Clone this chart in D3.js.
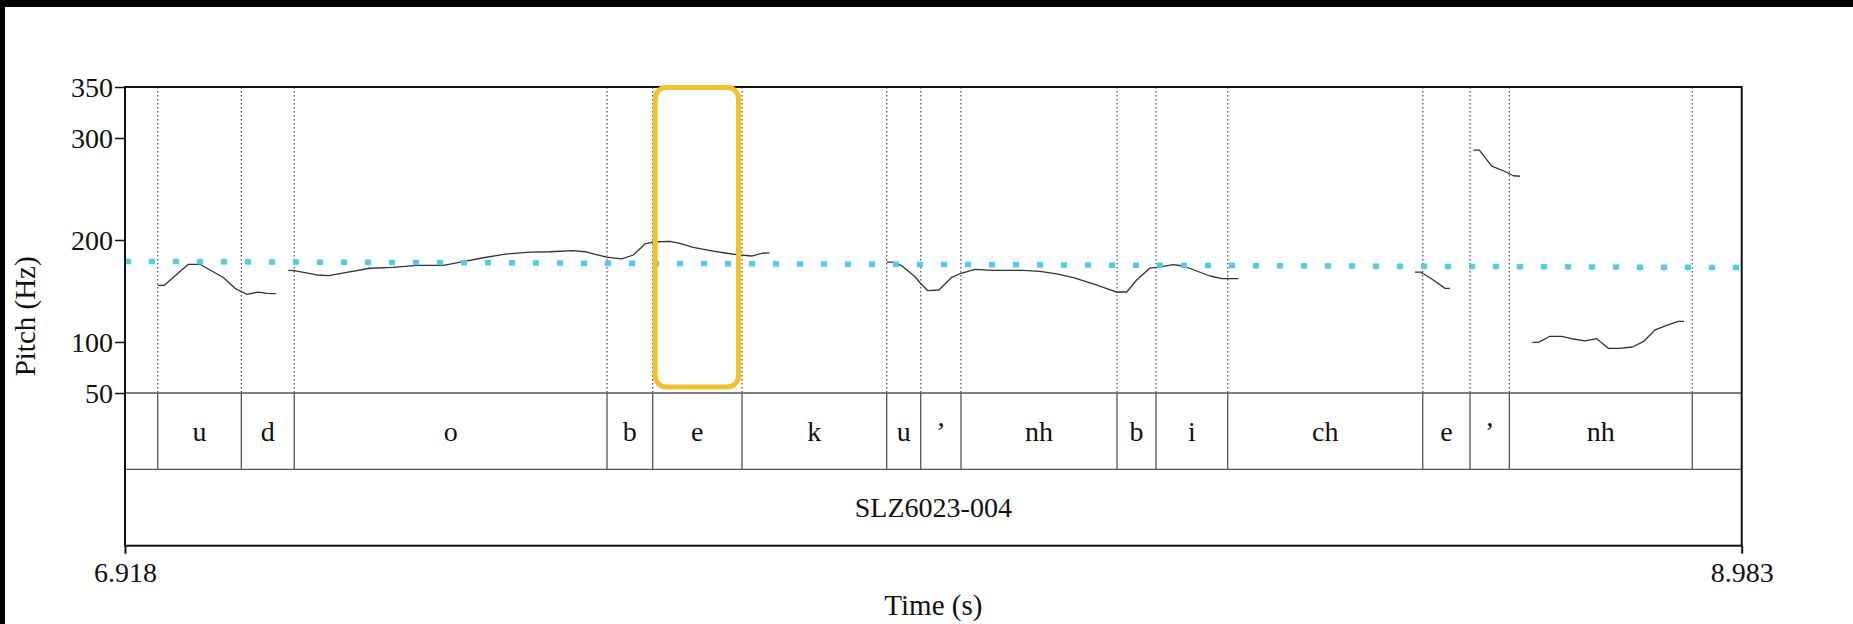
<!DOCTYPE html>
<html>
<head>
<meta charset="utf-8">
<script src="https://cdn.jsdelivr.net/npm/d3@7"></script>
<style>
  html, body { margin: 0; padding: 0; background: #fff; }
  svg { display: block; }
  text { font-family: "Liberation Serif", "Times New Roman", serif; fill: #111; }
</style>
</head>
<body>
<svg id="chart" width="1853" height="624"></svg>
<script>
// ---------- data ----------
const timeDomain = [6.918, 8.983];
const timeTickLabels = ["6.918", "8.983"];
const pitchDomain = [50, 350];
const pitchTicks = [50, 100, 200, 300, 350];

const phonemeBounds = [6.918, 6.9598, 7.0666, 7.1342, 7.5337, 7.5920, 7.7061, 7.8909,
  7.9344, 7.9858, 8.1851, 8.2349, 8.3265, 8.5756, 8.6360, 8.6862, 8.9199, 8.983];
const phonemeLabels = ["", "u", "d", "o", "b", "e", "k", "u", "\u2019", "nh", "b", "i",
  "ch", "e", "\u2019", "nh", ""];
const utteranceLabel = "SLZ6023-004";
const highlightIndex = 5; // the "e" interval

const pitchSeg1 = [[6.9598,155.6],[6.9682,155.6],[6.9989,176.2],[7.0138,176.2],[7.0266,170.6],
  [7.0436,163.2],[7.0585,152.6],[7.0735,146.8],[7.0883,149.0],[7.0990,147.7],[7.1105,147.4]];
const pitchSeg2 = [[7.1266,170.3],[7.1343,169.9],[7.1629,165.7],[7.1786,165.0],[7.2012,168.3],
  [7.2309,172.3],[7.2607,173.2],[7.2906,175.2],[7.3246,175.2],[7.3501,178.7],[7.3757,182.6],
  [7.4055,186.3],[7.4353,188.2],[7.4609,188.5],[7.4906,189.5],[7.5056,188.5],[7.5162,186.3],
  [7.5333,183.3],[7.5524,181.4],[7.5673,185.3],[7.5822,196.1],[7.5908,197.7],[7.5992,198.3],
  [7.6141,198.7],[7.6269,196.8],[7.6439,192.8],[7.6694,189.2],[7.6866,187.0],[7.6993,185.6],
  [7.7185,184.3],[7.7313,187.0],[7.7410,187.3]];
const pitchSeg3 = [[7.8909,178.4],[7.8986,178.4],[7.9101,174.8],[7.9271,164.0],[7.9335,158.1],
  [7.9433,150.3],[7.9577,151.0],[7.9740,163.4],[7.9858,167.4],[8.0037,171.3],[8.0271,170.3],
  [8.0654,170.3],[8.0867,169.3],[8.1081,166.7],[8.1293,163.0],[8.1548,156.9],[8.1847,149.0],
  [8.1975,149.0],[8.2102,160.8],[8.2272,172.5],[8.2358,173.2],[8.2570,175.8],[8.2698,174.5],
  [8.2869,169.6],[8.3039,164.7],[8.3188,162.1],[8.3400,162.1]];
const pitchSeg4 = [[8.5657,168.6],[8.5730,168.6],[8.5891,160.8],[8.6040,152.6],[8.6104,152.6]];
const pitchSeg5 = [[8.6402,288.2],[8.6479,288.2],[8.6637,272.5],[8.6785,267.9],[8.6913,263.0],
  [8.6998,262.5]];
const pitchSeg6 = [[8.7156,99.7],[8.7232,99.7],[8.7382,105.6],[8.7531,105.6],[8.7659,103.2],
  [8.7829,101.0],[8.7978,103.2],[8.8126,93.8],[8.8276,93.8],[8.8433,95.1],[8.8573,100.3],
  [8.8723,111.8],[8.8872,116.4],[8.9020,120.3],[8.9093,120.3]];
const pitchSegments = [pitchSeg1, pitchSeg2, pitchSeg3, pitchSeg4, pitchSeg5, pitchSeg6];

const trendTimes = [6.918, 8.983];
const trendHz = [179, 173];

// ---------- layout ----------
const svg = d3.select("#chart");
const left = 125, right = 1741.7;
const pitchTop = 87, pitchBottom = 393;
const tier1Bottom = 469.3, tier2Bottom = 545.7;
const fontSize = 28;

const x = d3.scaleLinear().domain(timeDomain).range([left, right]);
const y = d3.scaleLinear().domain(pitchDomain).range([pitchBottom, pitchTop]);

// screenshot black borders
svg.append("rect").attr("x", 0).attr("y", 0).attr("width", 1853).attr("height", 7).attr("fill", "#000");
svg.append("rect").attr("x", 0).attr("y", 0).attr("width", 5).attr("height", 624).attr("fill", "#000");

// dotted boundary lines in the pitch tier
const inner = phonemeBounds.slice(1, -1);
svg.append("g").selectAll("line").data(inner).join("line")
  .attr("x1", d => x(d)).attr("x2", d => x(d))
  .attr("y1", pitchTop).attr("y2", pitchBottom)
  .attr("stroke", "#555").attr("stroke-width", 1.3)
  .attr("stroke-dasharray", "1.4,2.6");

// solid boundary lines in the phoneme tier
svg.append("g").selectAll("line").data(inner).join("line")
  .attr("x1", d => x(d)).attr("x2", d => x(d))
  .attr("y1", pitchBottom).attr("y2", tier1Bottom)
  .attr("stroke", "#555").attr("stroke-width", 1.3);

// tier dividers
[pitchBottom, tier1Bottom].forEach(v => {
  svg.append("line").attr("x1", left).attr("x2", right).attr("y1", v).attr("y2", v)
    .attr("stroke", "#555").attr("stroke-width", 1.3);
});

// pitch contour
const line = d3.line().x(d => x(d[0])).y(d => y(d[1]));
svg.append("g").selectAll("path").data(pitchSegments).join("path")
  .attr("d", line).attr("fill", "none")
  .attr("stroke", "#333").attr("stroke-width", 1.3).attr("stroke-linejoin", "round");

// cyan dotted trend line
svg.append("path")
  .datum(trendTimes.map((t, i) => [t, trendHz[i]]))
  .attr("d", line).attr("fill", "none")
  .attr("stroke", "#4DD0E1").attr("stroke-width", 5.5)
  .attr("stroke-dasharray", "6,18");

// frame
svg.append("rect").attr("x", left).attr("y", pitchTop)
  .attr("width", right - left).attr("height", tier2Bottom - pitchTop)
  .attr("fill", "none").attr("stroke", "#111").attr("stroke-width", 2);

// y axis
const yAxis = d3.axisLeft(y).tickValues(pitchTicks).tickSize(10).tickPadding(2)
  .tickFormat(d3.format("d"));
const gy = svg.append("g").attr("transform", `translate(${left},0)`).call(yAxis);
gy.select(".domain").remove();
gy.selectAll(".tick line").attr("stroke", "#111").attr("stroke-width", 1.5);
gy.selectAll(".tick text").attr("font-size", fontSize)
  .attr("font-family", '"Liberation Serif", "Times New Roman", serif').attr("fill", "#111")
  .attr("dy", "0.33em");

// x axis (bottom, only ends)
const xAxis = d3.axisBottom(x).tickValues(timeDomain).tickSize(8).tickPadding(8)
  .tickFormat((d, i) => timeTickLabels[i]);
const gx = svg.append("g").attr("transform", `translate(0,${tier2Bottom})`).call(xAxis);
gx.select(".domain").remove();
gx.selectAll(".tick line").attr("stroke", "#111").attr("stroke-width", 2);
gx.selectAll(".tick text").attr("font-size", fontSize)
  .attr("font-family", '"Liberation Serif", "Times New Roman", serif').attr("fill", "#111")
  .attr("dy", "0.71em");

// phoneme labels
const intervals = phonemeLabels.map((lab, i) => ({ lab, a: phonemeBounds[i], b: phonemeBounds[i + 1] }));
svg.append("g").selectAll("text").data(intervals.filter(d => d.lab)).join("text")
  .attr("x", d => x((d.a + d.b) / 2))
  .attr("y", 441)
  .attr("text-anchor", "middle")
  .attr("font-size", fontSize)
  .text(d => d.lab);

// utterance label
svg.append("text").attr("x", (left + right) / 2).attr("y", 517)
  .attr("text-anchor", "middle").attr("font-size", fontSize).text(utteranceLabel);

// axis titles
svg.append("text").attr("x", (left + right) / 2).attr("y", 615)
  .attr("text-anchor", "middle").attr("font-size", 29).text("Time (s)");
svg.append("text")
  .attr("transform", `translate(35,${(pitchTop + tier2Bottom) / 2}) rotate(-90)`)
  .attr("text-anchor", "middle").attr("font-size", 29).text("Pitch (Hz)");

// highlight box around the selected interval
const hA = phonemeBounds[highlightIndex], hB = phonemeBounds[highlightIndex + 1];
svg.append("rect")
  .attr("x", x(hA) + 2.5).attr("y", y(350) + 0.5)
  .attr("width", x(hB) - x(hA) - 6).attr("height", y(50) - y(350) - 6.5)
  .attr("rx", 11).attr("ry", 11)
  .attr("fill", "none").attr("stroke", "#F2C12E").attr("stroke-width", 5);
</script>
</body>
</html>
